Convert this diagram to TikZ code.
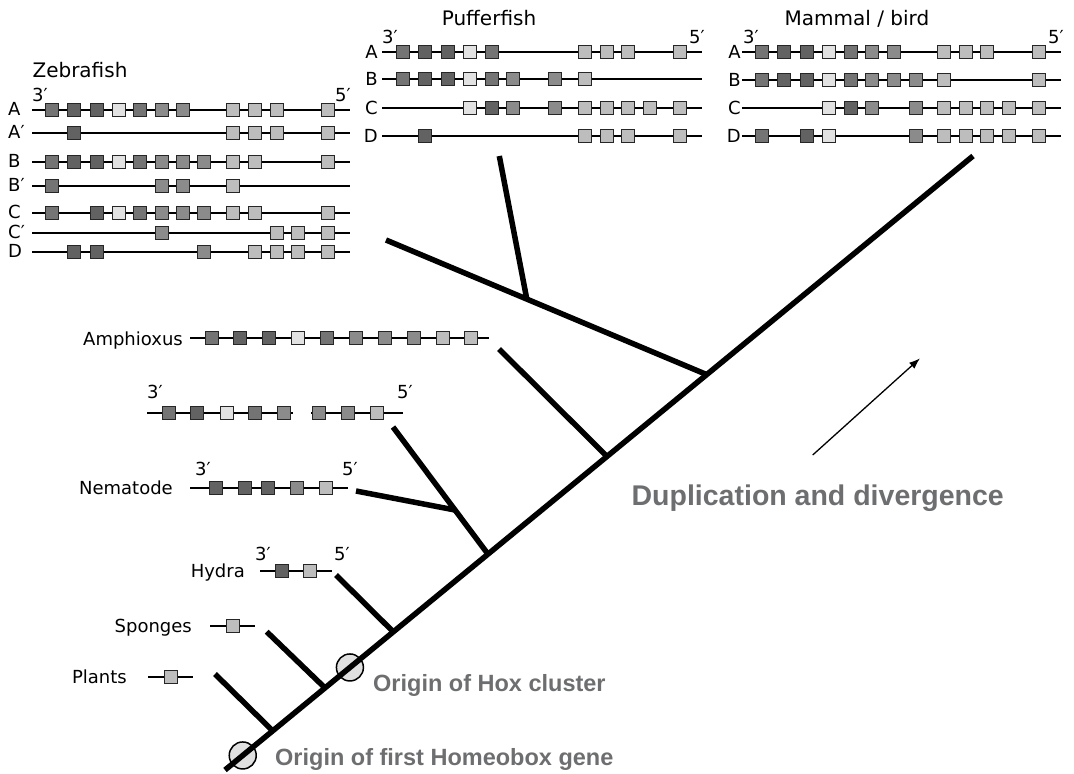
\documentclass[tikz,border=0pt]{standalone}
\usepackage{fontspec}
\setmainfont{DejaVu Sans}
\newfontfamily\headfont{Liberation Sans}
\usetikzlibrary{calc}
\usetikzlibrary{arrows.meta}
\definecolor{gd}{HTML}{626262}
\definecolor{gm}{HTML}{747474}
\definecolor{gg}{HTML}{8B8B8B}
\definecolor{gl}{HTML}{BDBDBD}
\definecolor{gw}{HTML}{E2E2E2}
\definecolor{evgray}{HTML}{6D6E70}
\tikzset{
  gene/.style= {draw=black!85, line width=1.1pt, minimum size=13pt, inner sep=0pt},
  dna/.style= {line width=1.2pt},
  treeline/.style= {line width=5.5pt},
  lab/.style= {font=\fontsize{18}{18}\selectfont, inner sep=0pt},
  cladename/.style= {font=\fontsize{20}{20}\selectfont, inner sep=0pt, anchor=base},
  eventtext/.style= {font=\headfont\bfseries\fontsize{23.5}{23.5}\selectfont, text=evgray, inner sep=0pt},
  bigevent/.style= {eventtext, font=\headfont\bfseries\fontsize{28.5}{28.5}\selectfont},
  eventdot/.style= {draw, circle, fill=black!12, line width=1.5pt, minimum size=27pt, inner sep=0pt},
}
\newcommand{\hoxrow}[5]{%
  \coordinate (#1w) at (#3,#2);
  \coordinate (#1e) at (#4,#2);
  \draw [dna] (#1w) -- (#1e);
  \foreach \x/\c [count=\i] in {#5}
    \node [gene, fill=\c] (#1\i) at (\x,#2) {};
}

\begin{document}
\begin{tikzpicture}[x=1pt, y=-1pt]
  \useasboundingbox (0,0) rectangle (1074,774);

  % Zebrafish
  \node [cladename] (zftitle) at (80,77) {Zebrafish};
  \hoxrow{za}{110}{32}{350}{51.7/gm, 74/gd, 96.7/gd, 119/gw, 140/gm, 162.3/gg, 183.3/gg, 233.3/gl, 255/gl, 276.7/gl, 328.3/gl}
  \hoxrow{zap}{133}{32}{350}{74/gd, 233.3/gl, 255/gl, 276.7/gl, 328.3/gl}
  \hoxrow{zb}{162}{32}{350}{51.7/gm, 74/gd, 96.7/gd, 119/gw, 140/gm, 162.3/gg, 183.3/gg, 204/gg, 233.3/gl, 255/gl, 328.3/gl}
  \hoxrow{zbp}{186}{32}{350}{51.7/gm, 162.3/gg, 183.3/gg, 233.3/gl}
  \hoxrow{zc}{213}{32}{350}{51.7/gm, 96.7/gd, 119/gw, 140/gm, 162.3/gg, 183.3/gg, 204/gg, 233.3/gl, 255/gl, 328.3/gl}
  \hoxrow{zcp}{233}{32}{350}{162.3/gg, 276.7/gl, 298.3/gl, 328.3/gl}
  \hoxrow{zd}{252}{32}{350}{74/gd, 96.7/gd, 204/gg, 255/gl, 276.7/gl, 298.3/gl, 328.3/gl}
  \node [lab, anchor=west] (zal) at (8,109) {A};
  \node [lab, anchor=west] (zapl) at (8,132) {A′};
  \node [lab, anchor=west] (zbl) at (8,161) {B};
  \node [lab, anchor=west] (zbpl) at (8,185) {B′};
  \node [lab, anchor=west] (zcl) at (8,212) {C};
  \node [lab, anchor=west] (zcpl) at (8,232) {C′};
  \node [lab, anchor=west] (zdl) at (8,251) {D};
  \node [lab, anchor=base] (zf3) at (40,101) {3′};
  \node [lab, anchor=base] (zf5) at (343,101) {5′};

  % Pufferfish
  \node [cladename] (pftitle) at (489,25) {Pufferfish};
  \hoxrow{pa}{52}{382}{702}{403.3/gm, 425/gd, 447.7/gd, 470/gw, 491.7/gm, 585/gl, 606.7/gl, 628.3/gl, 680/gl}
  \hoxrow{pb}{79}{382}{702}{403.3/gm, 425/gd, 447.7/gd, 470/gw, 491.7/gm, 513/gg, 555/gg, 585/gl}
  \hoxrow{pc}{108}{382}{702}{470/gw, 491.7/gd, 513/gg, 555/gg, 585/gl, 606.7/gl, 628.3/gl, 650/gl, 680/gl}
  \hoxrow{pd}{136}{382}{702}{425/gd, 585/gl, 606.7/gl, 628.3/gl, 680/gl}
  \node [lab, anchor=east] (pal) at (378,52) {A};
  \node [lab, anchor=east] (pbl) at (378,79) {B};
  \node [lab, anchor=east] (pcl) at (378,108) {C};
  \node [lab, anchor=east] (pdl) at (378,136) {D};
  \node [lab, anchor=base] (pf3) at (390,43) {3′};
  \node [lab, anchor=base] (pf5) at (697,43) {5′};

  % Mammal / bird
  \node [cladename] (mbtitle) at (857,25) {Mammal / bird};
  \hoxrow{ma}{52}{742}{1061}{762.3/gm, 784/gd, 806.7/gd, 829/gw, 850.7/gm, 872.3/gg, 894/gg, 944/gl, 965.7/gl, 987.3/gl, 1039/gl}
  \hoxrow{mb}{80}{742}{1061}{762.3/gm, 784/gd, 806.7/gd, 829/gw, 850.7/gm, 872.3/gg, 894/gg, 915.7/gg, 944/gl, 1039/gl}
  \hoxrow{mc}{108}{742}{1061}{829/gw, 850.7/gd, 872.3/gg, 915.7/gg, 944/gl, 965.7/gl, 987.3/gl, 1009/gl, 1039/gl}
  \hoxrow{md}{136}{742}{1061}{762.3/gm, 806.7/gd, 829/gw, 915.7/gg, 944/gl, 965.7/gl, 987.3/gl, 1009/gl, 1039/gl}
  \node [lab, anchor=east] (mal) at (741,52) {A};
  \node [lab, anchor=east] (mbl) at (741,80) {B};
  \node [lab, anchor=east] (mcl) at (741,108) {C};
  \node [lab, anchor=east] (mdl) at (741,136) {D};
  \node [lab, anchor=base] (mb3) at (751,43) {3′};
  \node [lab, anchor=base] (mb5) at (1056,43) {5′};

  % Amphioxus and the lower clusters
  \hoxrow{am}{338}{190}{489}{211.7/gm, 240/gd, 269.3/gd, 298.3/gw, 326.7/gm, 356/gg, 385/gg, 414.3/gg, 443.3/gl, 471/gl}
  \node [lab, anchor=base east] (aml) at (183,345) {Amphioxus};
  \hoxrow{fl}{413}{147}{293}{169.3/gm, 196.7/gd, 226.7/gw, 255/gm, 284/gg}
  \hoxrow{fr}{413}{311}{403}{319.3/gg, 348.3/gg, 376.7/gl}
  \node [lab, anchor=base] (fl3) at (155,398) {3′};
  \node [lab, anchor=base] (fr5) at (405,398) {5′};
  \hoxrow{ne}{488}{190}{348}{215.7/gd, 245/gd, 268.3/gd, 297.3/gg, 326/gl}
  \node [lab, anchor=base east] (nel) at (173,494) {Nematode};
  \node [lab, anchor=base] (ne3) at (203,475) {3′};
  \node [lab, anchor=base] (ne5) at (350,475) {5′};
  \hoxrow{hy}{571}{260}{332}{282.3/gd, 310/gl}
  \node [lab, anchor=base east] (hyl) at (245,577) {Hydra};
  \node [lab, anchor=base] (hy3) at (263,560) {3′};
  \node [lab, anchor=base] (hy5) at (342,560) {5′};
  \hoxrow{sp}{626}{210}{255}{232.7/gl}
  \node [lab, anchor=base east] (spl) at (192,632) {Sponges};
  \hoxrow{pl}{677}{148}{193}{171/gl}
  \node [lab, anchor=base east] (pll) at (127,683) {Plants};

  % tree
  \coordinate (root) at (225,770);
  \coordinate (top) at (973,156);
  \node [eventdot] (homeo) at ($(root)!0.0237!(top)$) {};
  \node [eventdot] (hoxorig) at ($(root)!0.167!(top)$) {};
  \coordinate (jplants) at ($(root)!0.0638!(top)$);
  \coordinate (jsponges) at ($(root)!0.1337!(top)$);
  \coordinate (jhydra) at ($(root)!0.225!(top)$);
  \coordinate (jprot) at ($(root)!0.3516!(top)$);
  \coordinate (jamph) at ($(root)!0.5107!(top)$);
  \coordinate (jvert) at ($(root)!0.644!(top)$);
  \coordinate (plantsend) at (215,674);
  \coordinate (spongesend) at (266.7,631.7);
  \coordinate (hydraend) at (336,575);
  \coordinate (flyend) at (393,427);
  \coordinate (nemend) at (356,491);
  \coordinate (jnem) at ($(flyend)!0.653!(jprot)$);
  \coordinate (amphend) at (499,349);
  \coordinate (zfend) at (386,240);
  \coordinate (jpuffer) at ($(jvert)!0.561!(zfend)$);
  \coordinate (pufferend) at (499.3,156);

  \draw [treeline] (root) -- (top);
  \draw [treeline] (plantsend) -- (jplants);
  \draw [treeline] (spongesend) -- (jsponges);
  \draw [treeline] (hydraend) -- (jhydra);
  \draw [treeline] (flyend) -- (jprot);
  \draw [treeline] (nemend) -- (jnem);
  \draw [treeline] (amphend) -- (jamph);
  \draw [treeline] (zfend) -- (jvert);
  \draw [treeline] (pufferend) -- (jpuffer);

  \node [eventtext, anchor=base west] (hoxtext) at (373,691) {Origin of Hox cluster};
  \node [eventtext, anchor=base west] (homeotext) at (275,765) {Origin of first Homeobox gene};

  \coordinate (arrtail) at (812.7,455);
  \coordinate (arrhead) at (920,358.3);
  \draw [-{Latex[length=11pt,width=8pt]}, line width=1.3pt] (arrtail) -- (arrhead);
  \node [bigevent, anchor=base east] (duptext) at (1004,505) {Duplication and divergence};
\end{tikzpicture}
\end{document}
